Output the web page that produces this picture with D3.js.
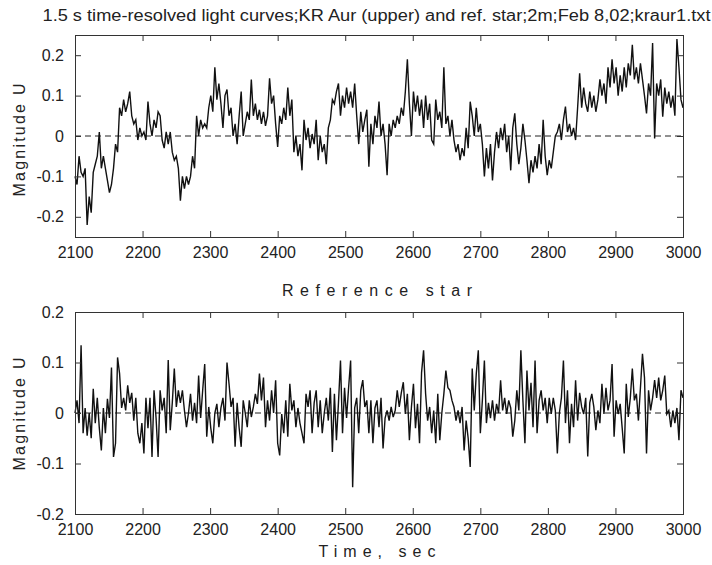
<!doctype html>
<html lang="">
<head>
  <title>KR Aur light curves</title>
  <meta charset="utf-8">
  <style>
    body { margin: 0; background: #fff; }
    svg text { font-family: "Liberation Sans", Arial, sans-serif; fill: #222; }
    .axis path { display: none; }
    .axis line { stroke: #333; }
    .axis text { font-size: 16px; fill: #222; }
    .box { fill: none; stroke: #333; stroke-width: 1; }
    .zero { stroke: #222; stroke-dasharray: 6,4; }
    .curve { fill: none; stroke: #111; stroke-width: 1.4; stroke-linejoin: miter; }
  </style>
</head>
<body>
<svg width="712" height="565"></svg>
<script src="https://d3js.org/d3.v7.min.js"></script>
<script>
  // sampling: one value every 3 s starting at 2100 s
  var t0 = 2100, dt = 3;

  var xTicks = [2100, 2200, 2300, 2400, 2500, 2600, 2700, 2800, 2900, 3000];
  var yTicks = [-0.2, -0.1, 0, 0.1, 0.2];

  // KR Aur, Magnitude U (upper panel)
  var kraurU = [
    -0.10, -0.12, -0.05, -0.09, -0.10, -0.08, -0.22, -0.15, -0.19, -0.09,
    -0.07, -0.05, 0.01, -0.08, -0.05, -0.08, -0.11, -0.14, -0.12, -0.08,
    -0.02, -0.04, 0.07, 0.05, 0.09, 0.06, 0.08, 0.11, 0.05, 0.03,
    0.04, -0.01, 0.02, 0.0, 0.01, -0.01, 0.085, 0.03, 0.0, 0.04,
    0.02, 0.06, 0.05, -0.01, -0.03, 0.01, -0.02, 0.01, -0.04, -0.06,
    -0.05, -0.08, -0.16, -0.10, -0.13, -0.10, -0.12, -0.10, -0.05, -0.08,
    0.05, 0.0, 0.04, 0.02, 0.03, 0.02, 0.07, 0.10, 0.06, 0.17,
    0.09, 0.13, 0.08, 0.02, 0.10, 0.115, 0.05, 0.07, 0.0, 0.03,
    -0.02, 0.05, 0.11, 0.0, 0.03, 0.06, 0.04, 0.14, 0.05, 0.08,
    0.04, 0.065, 0.03, 0.06, 0.025, 0.05, 0.143, 0.08, 0.1, 0.03,
    -0.027, 0.05, 0.03, 0.07, 0.04, 0.12, 0.05, 0.09, -0.04, 0.0,
    -0.05, -0.02, -0.085, 0.04, -0.01, 0.02, -0.03, 0.005, -0.02, 0.04,
    -0.06, 0.0, -0.04, -0.02, -0.07, 0.02, 0.04, 0.09, 0.08, 0.11,
    0.13, 0.05, 0.10, 0.07, 0.12, 0.08, 0.11, 0.07, 0.13, 0.05,
    -0.02, 0.06, 0.01, 0.04, 0.065, -0.076, 0.03, -0.02, 0.05, 0.02,
    0.085, 0.0, 0.03, -0.02, -0.097, 0.03, 0.0, 0.04, 0.02, 0.05,
    0.03, 0.07, 0.05, 0.11, 0.19, 0.08, 0.0, 0.11, 0.06, 0.10,
    0.05, 0.09, 0.02, 0.10, 0.04, 0.08, -0.01, -0.02, 0.09, 0.04,
    0.06, 0.02, 0.17, 0.03, 0.05, 0.0, 0.04, -0.01, -0.04, -0.02,
    -0.06, -0.03, -0.05, 0.02, -0.03, 0.085, 0.05, 0.0, 0.07, 0.01,
    0.03, -0.02, -0.10, -0.03, -0.08, -0.02, -0.11, -0.04, 0.01, -0.03,
    0.02, -0.01, 0.03, -0.04, 0.0, -0.085, 0.02, 0.056, -0.02, -0.07,
    -0.03, 0.03, -0.01, -0.06, -0.117, -0.06, -0.09, -0.05, -0.08, -0.02,
    -0.07, 0.04, -0.05, -0.097, -0.06, -0.08, -0.04, 0.0, 0.01, 0.03,
    -0.01, 0.04, 0.073, 0.01, 0.03, 0.0, 0.02, -0.01, 0.07, 0.155,
    0.07, 0.12, 0.08, 0.06, 0.11, 0.07, 0.10, 0.06, 0.09, 0.14,
    0.10, 0.13, 0.08, 0.17, 0.12, 0.19, 0.13, 0.17, 0.10, 0.15,
    0.11, 0.17, 0.12, 0.18, 0.15, 0.226, 0.14, 0.17, 0.13, 0.18,
    0.14, 0.10, 0.056, 0.13, 0.10, 0.23, -0.006, 0.13, 0.10, 0.14,
    0.048, 0.12, 0.08, 0.11, 0.07, 0.10, 0.05, 0.24, 0.17, 0.09, 0.07
  ];

  // reference star, Magnitude U (lower panel)
  var refU = [
    0.0, 0.025, -0.02, 0.134, -0.04, 0.01, -0.045, 0.0, -0.05, 0.048,
    -0.02, 0.03, -0.03, -0.074, 0.01, -0.04, 0.028, -0.01, 0.09, -0.087,
    -0.06, 0.11, 0.078, 0.01, 0.03, 0.005, 0.055, 0.02, 0.04, -0.015,
    0.03, -0.04, -0.06, -0.02, -0.08, 0.03, -0.03, 0.03, -0.087, 0.045,
    -0.01, -0.087, 0.045, 0.005, 0.03, -0.04, 0.105, -0.034, 0.02, 0.088,
    0.012, 0.045, 0.02, 0.045, 0.005, -0.028, 0.0, 0.038, -0.015, 0.02,
    -0.02, 0.074, -0.01, 0.045, 0.097, -0.047, 0.012, -0.03, -0.06, 0.0,
    0.018, -0.028, 0.01, 0.03, -0.015, 0.1, 0.058, 0.012, 0.03, -0.067,
    0.02, -0.03, -0.067, 0.025, 0.0, -0.028, 0.025, -0.008, 0.012, 0.038,
    0.018, 0.078, 0.025, 0.07, -0.028, 0.025, -0.015, 0.045, 0.0, 0.065,
    -0.06, -0.084, -0.002, -0.04, 0.025, -0.047, 0.058, 0.005, 0.025, -0.028,
    0.01, -0.02, -0.04, -0.06, 0.038, 0.012, 0.045, -0.04, 0.02, 0.045,
    -0.028, 0.025, -0.04, 0.0, 0.03, -0.015, 0.05, -0.077, 0.038, -0.054,
    0.02, 0.104, -0.04, 0.05, -0.01, 0.05, 0.104, -0.147, 0.01, 0.03,
    -0.04, 0.045, 0.065, 0.012, 0.025, -0.04, 0.025, -0.06, 0.01, 0.025,
    -0.028, 0.03, -0.07, -0.01, 0.005, -0.015, 0.012, -0.008, 0.005, 0.045,
    0.012, 0.04, 0.061, -0.002, 0.038, -0.054, 0.012, 0.058, -0.03, 0.018,
    -0.06, 0.08, 0.124, 0.038, -0.015, 0.012, -0.04, 0.005, -0.06, 0.038,
    -0.054, 0.0, 0.038, 0.084, 0.05, 0.045, 0.025, 0.012, -0.015, 0.005,
    -0.02, 0.012, -0.074, -0.015, -0.05, -0.107, 0.088, 0.005, 0.078, 0.124,
    -0.04, 0.025, 0.104, -0.02, 0.02, -0.01, 0.025, -0.015, 0.018, 0.0,
    0.065, 0.005, 0.03, -0.002, 0.025, 0.01, -0.047, -0.015, 0.045, 0.005,
    0.124, 0.025, -0.06, 0.084, 0.005, 0.06, -0.028, 0.104, -0.04, 0.025,
    0.045, 0.005, 0.03, -0.02, 0.03, -0.002, 0.03, 0.005, -0.08, 0.0,
    0.03, 0.104, -0.02, 0.045, -0.06, 0.018, -0.028, 0.065, -0.015, 0.04,
    0.012, -0.002, 0.03, -0.086, 0.02, 0.038, 0.012, -0.034, 0.005, -0.02,
    0.058, -0.002, 0.05, 0.005, 0.025, 0.097, -0.047, 0.025, -0.002, 0.018,
    -0.03, -0.08, 0.058, -0.008, 0.03, 0.088, 0.025, 0.038, -0.015, 0.05,
    0.117, 0.07, -0.08, 0.045, 0.005, 0.03, 0.065, 0.03, 0.07, 0.025,
    0.045, 0.074, -0.002, 0.005, -0.028, 0.005, -0.02, 0.01, -0.054, 0.045, 0.03
  ];

  var svg = d3.select("svg");
  var left = 75, right = 683;

  var x = d3.scaleLinear().domain([2100, 3000]).range([left, right]);

  function panel(values, yDomain, top, bottom, labelY) {
    var y = d3.scaleLinear().domain(yDomain).range([bottom, top]);
    var g = svg.append("g");

    g.append("line")
      .attr("class", "zero")
      .attr("x1", left).attr("x2", right)
      .attr("y1", y(0)).attr("y2", y(0));

    var line = d3.line()
      .x(function (d, i) { return x(t0 + i * dt); })
      .y(function (d) { return y(d); });

    g.append("path")
      .attr("class", "curve")
      .attr("d", line(values));

    g.append("g").attr("class", "axis")
      .attr("transform", "translate(0," + bottom + ")")
      .call(d3.axisBottom(x).tickValues(xTicks).tickSize(-6).tickPadding(10).tickFormat(d3.format("d")));
    g.append("g").attr("class", "axis")
      .attr("transform", "translate(0," + top + ")")
      .call(d3.axisTop(x).tickValues(xTicks).tickSize(-6).tickFormat(""));
    g.append("g").attr("class", "axis")
      .attr("transform", "translate(" + left + ",0)")
      .call(d3.axisLeft(y).tickValues(yTicks).tickSize(-6).tickPadding(11)
        .tickFormat(function (d) { return d === 0 ? "0" : String(d); }));
    g.append("g").attr("class", "axis")
      .attr("transform", "translate(" + right + ",0)")
      .call(d3.axisRight(y).tickValues(yTicks).tickSize(-6).tickFormat(""));

    g.append("rect")
      .attr("class", "box")
      .attr("x", left + 0.5).attr("y", top + 0.5)
      .attr("width", right - left).attr("height", bottom - top);

    g.append("text")
      .attr("transform", "translate(25," + labelY + ") rotate(-90)")
      .attr("text-anchor", "middle")
      .attr("font-size", 16)
      .attr("textLength", 113).attr("lengthAdjust", "spacing")
      .text("Magnitude  U");
  }

  panel(kraurU, [-0.25, 0.25], 35, 237, 140);
  panel(refU, [-0.2, 0.2], 312, 514, 414);

  svg.append("text")
    .attr("x", 376.5).attr("y", 21)
    .attr("text-anchor", "middle")
    .attr("font-size", 16)
    .attr("textLength", 668).attr("lengthAdjust", "spacingAndGlyphs")
    .text("1.5 s time-resolved light curves;KR Aur (upper) and ref. star;2m;Feb 8,02;kraur1.txt");

  svg.append("text")
    .attr("x", 377).attr("y", 296)
    .attr("text-anchor", "middle")
    .attr("font-size", 16)
    .attr("textLength", 190).attr("lengthAdjust", "spacing")
    .text("Reference star");

  svg.append("text")
    .attr("x", 377).attr("y", 557)
    .attr("text-anchor", "middle")
    .attr("font-size", 16)
    .attr("textLength", 117).attr("lengthAdjust", "spacing")
    .text("Time, sec");
</script>
</body>
</html>
